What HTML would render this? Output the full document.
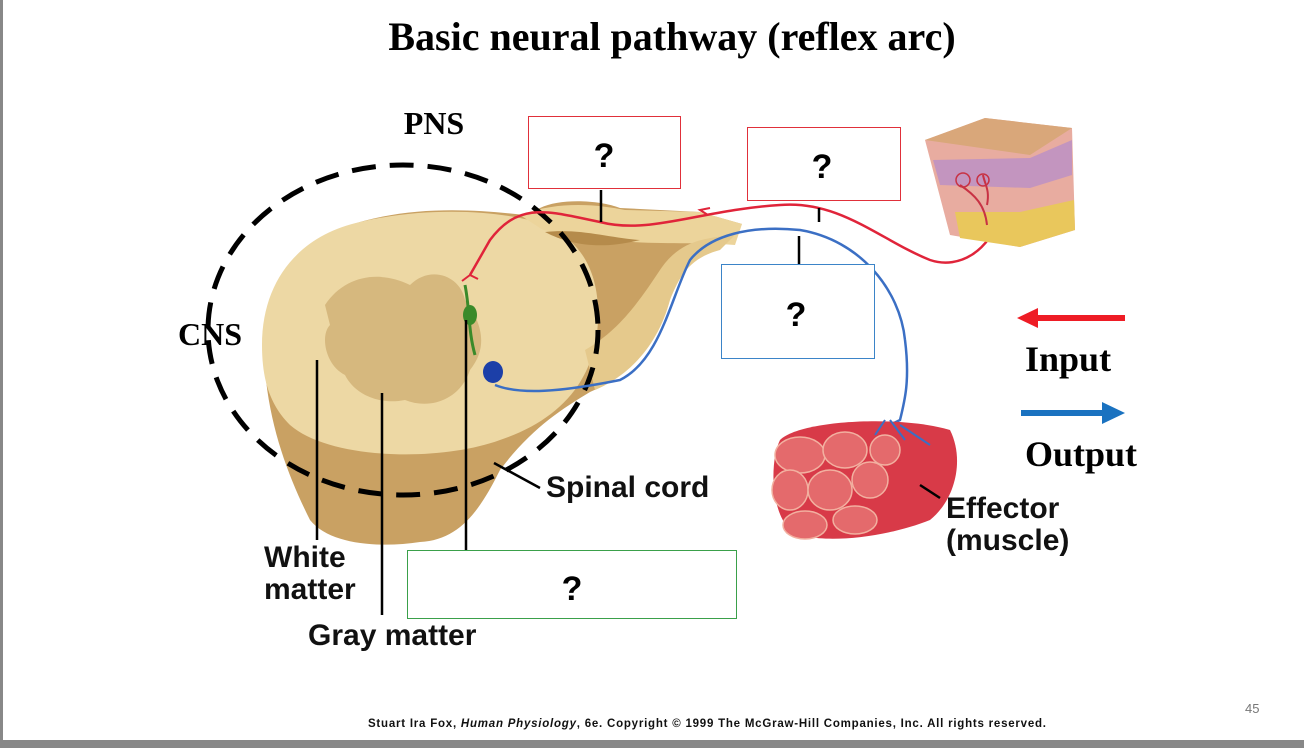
<!DOCTYPE html>
<html><head><meta charset="utf-8"><style>
html,body{margin:0;padding:0;background:#fff;}
body{width:1304px;height:748px;position:relative;overflow:hidden;}
svg{position:absolute;left:0;top:0;}
</style></head><body>
<svg width="1304" height="748" viewBox="0 0 1304 748" xmlns="http://www.w3.org/2000/svg">
<rect x="0" y="0" width="3" height="748" fill="#888"/>
<rect x="0" y="740" width="1304" height="8" fill="#888"/>
<text x="672" y="50" text-anchor="middle" font-family="Liberation Serif" font-weight="bold" font-size="40">Basic neural pathway (reflex arc)</text>
<text x="434" y="134" text-anchor="middle" font-family="Liberation Serif" font-weight="bold" font-size="32">PNS</text>
<text x="178" y="345" font-family="Liberation Serif" font-weight="bold" font-size="32">CNS</text>

<path d="M265,370 C262,300 300,240 360,222 C420,205 480,210 525,215 L540,208 C560,198 600,200 620,208 L700,212 L742,224 L720,248 C690,255 675,270 668,300 C655,345 630,375 590,392 C560,410 530,430 500,470 C480,510 460,540 420,542 C380,548 330,545 310,520 C290,480 270,430 265,370 Z" fill="#c9a163"/>
<path d="M262,345 C262,280 300,235 360,222 C420,208 480,210 520,218 C575,228 600,265 598,320 C596,380 560,420 500,440 C440,462 330,460 290,425 C270,405 262,380 262,345 Z" fill="#edd8a4"/>
<path d="M325,305 C345,275 380,270 410,285 C430,265 460,275 465,300 C480,320 490,345 470,370 C460,400 430,410 405,400 C380,405 355,395 345,375 C325,365 320,335 330,325 Z" fill="#d6b87e"/>
<path d="M520,215 C560,200 600,205 625,210 L700,212 L742,224 L735,245 C700,242 650,245 610,240 C570,236 545,232 540,228 Z" fill="#ecd49b"/>
<path d="M585,350 C620,330 640,300 660,270 C680,240 705,238 735,235 L720,250 C690,258 680,275 670,300 C658,345 630,375 595,390 Z" fill="#e5c98c"/>
<path d="M545,232 C580,228 610,238 640,240 C600,250 570,245 545,232 Z" fill="#b58b4b"/>

<ellipse cx="403" cy="330" rx="195" ry="165" fill="none" stroke="#000" stroke-width="5" stroke-dasharray="24,14"/>

<path d="M1000,215 C990,250 960,270 930,260 C880,240 840,200 780,205 C700,210 650,235 600,222 C550,212 520,200 490,240 L470,275" fill="none" stroke="#e0243a" stroke-width="2.5"/>
<path d="M470,275 l-8,6 M470,275 l8,4" stroke="#e0243a" stroke-width="2"/>
<path d="M465,285 C470,310 468,330 475,355" fill="none" stroke="#3a8a2a" stroke-width="3"/>
<ellipse cx="470" cy="315" rx="7" ry="10" fill="#3a8a2a"/>
<ellipse cx="493" cy="372" rx="10" ry="11" fill="#1c3fa8"/>
<path d="M495,385 C520,395 560,392 620,380 C660,360 670,300 690,260 C710,235 750,225 800,230 C860,240 900,290 905,340 C910,380 905,400 900,420 L880,430" fill="none" stroke="#3b6fc4" stroke-width="2.5"/>
<path d="M710,208 l-10,2 l8,5" fill="none" stroke="#e0243a" stroke-width="2"/>

<path d="M925,140 L985,118 L1072,128 L1075,230 L1020,247 L950,235 Z" fill="#e8aca0"/>
<path d="M925,140 L985,118 L1072,128 L1030,155 Z" fill="#d9a77a"/>
<path d="M933,160 L1030,158 L1072,140 L1072,175 L1030,188 L940,185 Z" fill="#b78ec9" opacity="0.75"/>
<path d="M955,212 L1020,212 L1074,200 L1075,230 L1020,247 L960,238 Z" fill="#e9c75c"/>
<path d="M987,225 C985,205 975,195 960,185 M987,205 C990,190 985,185 983,175" fill="none" stroke="#c83244" stroke-width="2"/>
<circle cx="963" cy="180" r="7" fill="none" stroke="#c83244" stroke-width="1.5"/>
<circle cx="983" cy="180" r="6" fill="none" stroke="#c83244" stroke-width="1.5"/>

<path d="M780,440 C800,420 900,415 950,430 C965,460 955,500 930,520 C880,540 810,545 790,530 C770,510 770,460 780,440 Z" fill="#d83a48"/>
<g fill="#e46a6c" stroke="#f2b0a0" stroke-width="1.5">
<ellipse cx="800" cy="455" rx="25" ry="18"/><ellipse cx="845" cy="450" rx="22" ry="18"/>
<ellipse cx="790" cy="490" rx="18" ry="20"/><ellipse cx="830" cy="490" rx="22" ry="20"/>
<ellipse cx="870" cy="480" rx="18" ry="18"/><ellipse cx="805" cy="525" rx="22" ry="14"/>
<ellipse cx="855" cy="520" rx="22" ry="14"/><ellipse cx="885" cy="450" rx="15" ry="15"/>
</g>
<path d="M885,420 l-10,15 M890,420 l15,20 M900,425 l30,20" stroke="#3b6fc4" stroke-width="2"/>

<g stroke="#000" stroke-width="2.5">
<line x1="601" y1="190" x2="601" y2="222"/>
<line x1="819" y1="208" x2="819" y2="222"/>
<line x1="799" y1="236" x2="799" y2="264"/>
<line x1="466" y1="320" x2="466" y2="550"/>
<line x1="317" y1="360" x2="317" y2="540"/>
<line x1="382" y1="393" x2="382" y2="615"/>
<line x1="494" y1="463" x2="540" y2="488"/>
<line x1="920" y1="485" x2="940" y2="498"/>
</g>

<rect x="528.5" y="116.5" width="152" height="72" fill="#fff" stroke="#e0303a"/>
<rect x="747.5" y="127.5" width="153" height="73" fill="#fff" stroke="#e0303a"/>
<rect x="721.5" y="264.5" width="153" height="94" fill="#fff" stroke="#3b84c8"/>
<rect x="407.5" y="550.5" width="329" height="68" fill="#fff" stroke="#3aa04a"/>
<g font-family="Liberation Sans" font-weight="bold" font-size="34" text-anchor="middle">
<text x="604" y="167">?</text><text x="822" y="178">?</text>
<text x="796" y="326">?</text><text x="572" y="600">?</text>
</g>

<line x1="1125" y1="318" x2="1035" y2="318" stroke="#ee1c25" stroke-width="6"/>
<path d="M1017,318 L1038,308 L1038,328 Z" fill="#ee1c25"/>
<line x1="1021" y1="413" x2="1105" y2="413" stroke="#1a72c0" stroke-width="6"/>
<path d="M1125,413 L1102,402 L1102,424 Z" fill="#1a72c0"/>
<g font-family="Liberation Serif" font-weight="bold" font-size="36">
<text x="1025" y="371">Input</text><text x="1025" y="466">Output</text>
</g>
<g font-family="Liberation Sans" font-size="30" font-weight="bold" fill="#111">
<text x="546" y="497">Spinal cord</text>
<text x="946" y="518">Effector</text>
<text x="946" y="550">(muscle)</text>
<text x="264" y="567">White</text>
<text x="264" y="599">matter</text>
<text x="308" y="645">Gray matter</text>
</g>
<text x="1245" y="713" font-family="Liberation Sans" font-size="13" fill="#777">45</text>
<text x="368" y="727" font-family="Liberation Sans" font-size="11.5" font-weight="bold" fill="#111" textLength="678">Stuart Ira Fox, <tspan font-style="italic">Human Physiology</tspan>, 6e. Copyright © 1999 The McGraw-Hill Companies, Inc.  All rights reserved.</text>
</svg>
</body></html>
